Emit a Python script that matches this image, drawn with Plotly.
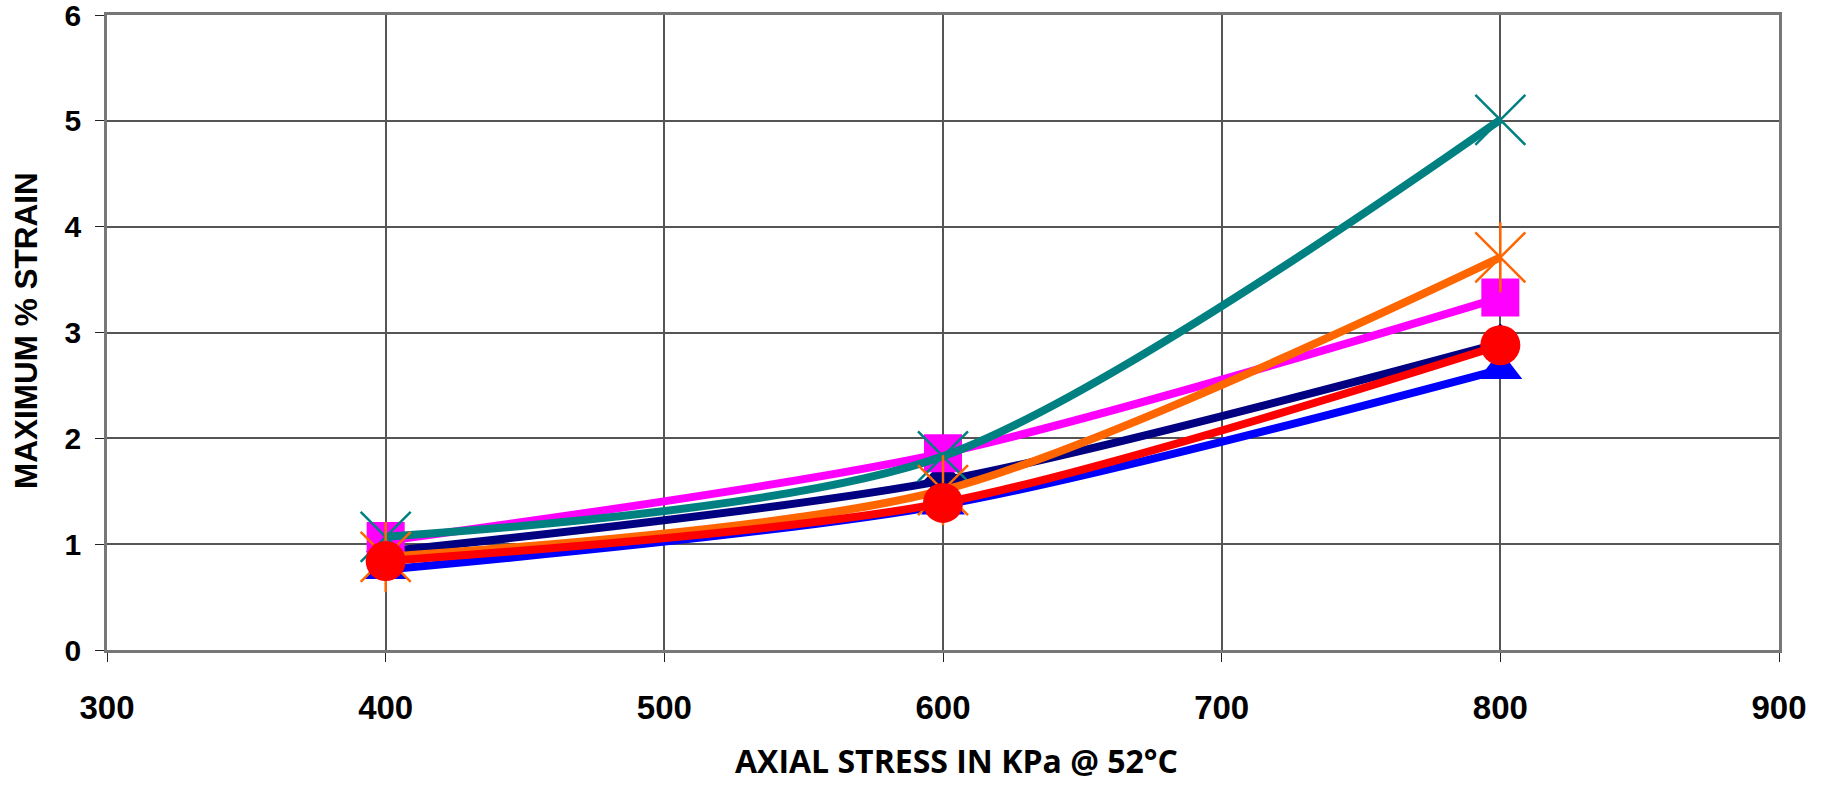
import plotly.graph_objects as go

x_vals = [400, 600, 800]
navy_y = [0.93, 1.60, 2.90]
blue_y = [0.76, 1.37, 2.65]
magenta_y = [1.03, 1.86, 3.33]
teal_y = [1.07, 1.83, 5.01]
orange_y = [0.88, 1.51, 3.71]
red_y = [0.84, 1.39, 2.88]

x_ticks = [300, 400, 500, 600, 700, 800, 900]
y_ticks = [0, 1, 2, 3, 4, 5, 6]

# (name, values, colour, marker symbol, marker size, marker line width)
series = [
    ("navy", navy_y, "#000080", "diamond", 30, 0),
    ("blue", blue_y, "#0000FF", "triangle-up", 38, 0),
    ("magenta", magenta_y, "#FF00FF", "square", 38, 0),
    ("teal", teal_y, "#008080", "x-thin-open", 50, 2.5),
    ("orange", orange_y, "#FF6600", "x-thin-open", 50, 2.5),
    ("red", red_y, "#FF0000", "circle", 40, 0),
]

fig = go.Figure()
for name, ys, color, sym, size, lw in series:
    marker = dict(symbol=sym, size=size, color=color,
                  line=dict(color=color, width=lw))
    fig.add_trace(go.Scatter(
        x=x_vals, y=ys, name=name, mode="lines+markers",
        line=dict(color=color, width=8, shape="spline", smoothing=0.8),
        marker=marker, showlegend=False,
    ))
    if name == "orange":
        # vertical stroke of the star marker
        fig.add_trace(go.Scatter(
            x=x_vals, y=ys, mode="markers", showlegend=False,
            marker=dict(symbol="line-ns-open", size=50, color=color,
                        line=dict(color=color, width=2.5)),
        ))

fig.update_layout(
    width=1826, height=786,
    margin=dict(l=107, r=47, t=15, b=136),
    paper_bgcolor="white", plot_bgcolor="white",
    font=dict(family="Liberation Sans, Arial", color="black"),
)
fig.update_xaxes(
    range=[300, 900], tickvals=x_ticks, automargin=False,
    showgrid=True, gridcolor="#555555", gridwidth=1.5,
    showline=True, linecolor="#777777", linewidth=2.5, mirror=True,
    ticks="outside", ticklen=9, tickcolor="#222222",
    ticklabelstandoff=18, ticklabeloverflow="allow",
    tickfont=dict(size=33, family="Liberation Sans, Arial", weight="bold"),
    zeroline=False,
)
fig.update_yaxes(
    range=[0, 6], tickvals=y_ticks, automargin=False,
    showgrid=True, gridcolor="#555555", gridwidth=1.5,
    showline=True, linecolor="#777777", linewidth=2.5, mirror=True,
    ticks="outside", ticklen=9, tickcolor="#222222",
    ticklabelstandoff=8, ticklabeloverflow="allow",
    tickfont=dict(size=30, family="Liberation Sans, Arial", weight="bold"),
    zeroline=False,
)

fig.add_annotation(
    text="AXIAL STRESS IN KPa @ 52°C", xref="paper", yref="paper",
    x=(956 - 107) / (1826 - 107 - 47), y=-(760 - 650) / (650 - 15),
    xanchor="center", yanchor="middle", showarrow=False,
    font=dict(size=32, family="Open Sans, Lato", weight="bold", color="black"),
)
fig.add_annotation(
    text="MAXIMUM % STRAIN", xref="paper", yref="paper",
    x=-(107 - 26) / (1826 - 107 - 47), y=(650 - 331) / (650 - 15),
    xanchor="center", yanchor="middle", showarrow=False, textangle=-90,
    font=dict(size=31.5, family="Liberation Sans, Arial", weight="bold", color="black"),
)

fig.write_html(
    "out.html",
    config={"displayModeBar": False},
    post_script="document.body.style.margin='0';document.body.style.overflow='hidden';",
)
